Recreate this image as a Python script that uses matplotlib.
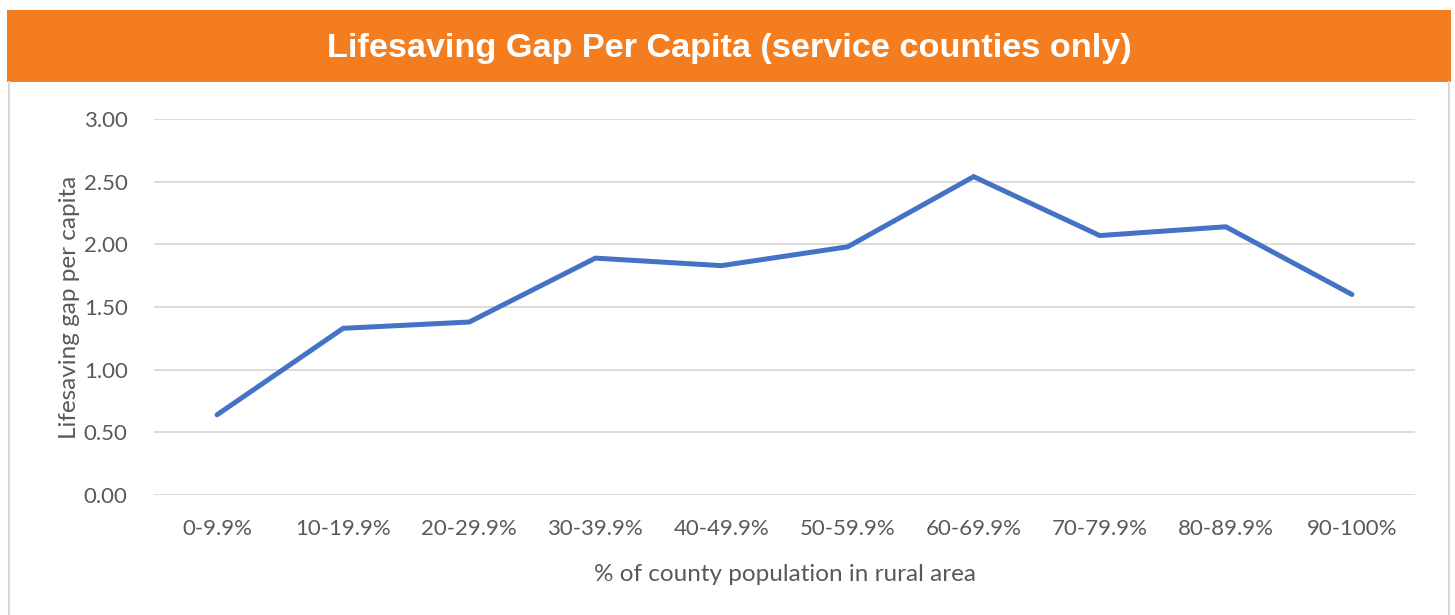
import matplotlib.pyplot as plt
from matplotlib.patches import Rectangle
from matplotlib.lines import Line2D

# datos
categorias = ['0-9.9%', '10-19.9%', '20-29.9%', '30-39.9%', '40-49.9%',
              '50-59.9%', '60-69.9%', '70-79.9%', '80-89.9%', '90-100%']
gap = [0.64, 1.33, 1.38, 1.89, 1.83, 1.98, 2.54, 2.07, 2.14, 1.60]
yticks = [0.0, 0.5, 1.0, 1.5, 2.0, 2.5, 3.0]

W, H = 1455, 615
fig = plt.figure(figsize=(W/100, H/100), dpi=100)
fig.patch.set_facecolor('white')

# banda naranja del titulo
fig.patches.append(Rectangle((7/W, 1-82/H), (1451-7)/W, 72/H, transform=fig.transFigure,
                             facecolor='#F47D20', edgecolor='none'))
fig.text(729/W, 1-48/H, 'Lifesaving Gap Per Capita (service counties only)',
         ha='center', va='center', color='white', fontsize=24.7, fontweight='bold',
         family='Liberation Sans')

# bordes grises
fig.lines.append(Line2D([8.5/W, 8.5/W], [0, 1-82/H], transform=fig.transFigure,
                        color='#D9D9D9', lw=1.5))
fig.lines.append(Line2D([1448.5/W, 1448.5/W], [0, 1-82/H], transform=fig.transFigure,
                        color='#D9D9D9', lw=1.5))

ax = fig.add_axes([154/W, 120/H, (1415-154)/W, (495-119)/H])
x = list(range(len(categorias)))
ax.plot(x, gap, color='#4472C4', lw=3.6, solid_joinstyle='miter', solid_capstyle='round', zorder=3)

ax.set_xlim(-0.5, len(categorias)-0.5)
ax.set_ylim(0, 3)
ax.set_yticks(yticks)
ax.set_yticklabels([f'{v:.2f}' for v in yticks])
ax.set_xticks(x)
ax.set_xticklabels(categorias)
ax.grid(axis='y', color='#D9D9D9', lw=1.3)
ax.set_axisbelow(True)
for s in ax.spines.values():
    s.set_visible(False)
ax.tick_params(length=0, labelsize=16, labelcolor='#595959')
ax.tick_params(axis='x', pad=17)
ax.tick_params(axis='y', pad=19)
for lab in ax.get_xticklabels() + ax.get_yticklabels():
    lab.set_family('Lato')

ax.set_xlabel('% of county population in rural area', fontsize=17.5, color='#595959',
              family='Lato', labelpad=18)
ax.set_ylabel('Lifesaving gap per capita', fontsize=17.5, color='#595959',
              family='Lato', labelpad=3)

fig.savefig('out.png', dpi=100)
